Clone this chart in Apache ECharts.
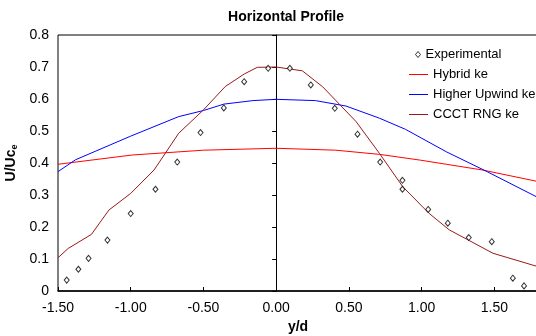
<!DOCTYPE html>
<html>
<head>
<meta charset="utf-8">
<script src="https://cdn.jsdelivr.net/npm/echarts@6/dist/echarts.min.js"></script>
<style>
  html, body { margin: 0; padding: 0; background: #fff; }
  #chart { width: 536px; height: 336px; }
</style>
</head>
<body>
<div id="chart"></div>
<script>
// 水平剖面 U/Uc_e vs y/d
var chart = echarts.init(document.getElementById('chart'));

// 实验点
var expX = [-1.44, -1.36, -1.29, -1.16, -1.00, -0.83, -0.68, -0.52, -0.36, -0.22, -0.055,
            0.094, 0.238, 0.403, 0.559, 0.715, 0.868, 0.868, 1.045, 1.18, 1.324, 1.482, 1.627, 1.704];
var expY = [0.034, 0.068, 0.102, 0.159, 0.242, 0.318, 0.403, 0.495, 0.572, 0.654, 0.696,
            0.696, 0.644, 0.571, 0.490, 0.403, 0.346, 0.318, 0.255, 0.212, 0.167, 0.154, 0.040, 0.016];

// Hybrid ke
var hybX = [-1.5, -0.99, -0.5, 0, 0.41, 0.71, 0.99, 1.17, 1.42, 1.8];
var hybY = [0.396, 0.425, 0.440, 0.446, 0.440, 0.427, 0.409, 0.396, 0.378, 0.342];

// Higher Upwind ke
var upwX = [-1.5, -1.38, -1.0, -0.67, -0.5, -0.36, -0.16, 0, 0.27, 0.48, 0.71, 0.89, 1.17, 1.45, 1.8];
var upwY = [0.373, 0.410, 0.484, 0.545, 0.564, 0.584, 0.595, 0.599, 0.595, 0.578, 0.540, 0.505, 0.435, 0.373, 0.292];

// CCCT RNG ke
var rngX = [-1.5, -1.43, -1.27, -1.15, -1.0, -0.84, -0.67, -0.5, -0.35, -0.22, -0.13, 0, 0.18, 0.32, 0.55, 0.71, 0.87, 1.05, 1.19, 1.33, 1.49, 1.8];
var rngY = [0.104, 0.133, 0.177, 0.253, 0.305, 0.378, 0.493, 0.566, 0.639, 0.678, 0.699, 0.700, 0.688, 0.638, 0.529, 0.430, 0.326, 0.243, 0.191, 0.157, 0.118, 0.076];

var xTicks = [-1.5, -1.0, -0.5, 0, 0.5, 1.0, 1.5];

var colors = { hyb: '#ff0000', upw: '#0000ff', rng: '#991a1a' };

function pairs(xs, ys) {
    return xs.map(function (x, i) { return [x, ys[i]]; });
}

var font = 'Arial, "Liberation Sans", sans-serif';
var legendText = { fontFamily: font, fontSize: 13, color: '#000' };

function lineLegend(name, c) {
    return { name: name, icon: 'rect', itemStyle: { color: c, borderWidth: 0 } };
}

var option = {
    animation: false,
    backgroundColor: '#fff',
    title: {
        text: 'Horizontal Profile',
        left: 281,
        textAlign: 'center',
        top: 5,
        textStyle: { fontFamily: font, fontSize: 14, fontWeight: 'bold', color: '#000' }
    },
    legend: [
        {
            data: [{
                name: 'Experimental',
                icon: 'diamond',
                itemStyle: { color: '#fff', borderColor: '#000', borderWidth: 1 }
            }],
            left: 410,
            top: 43,
            itemWidth: 5,
            itemHeight: 6,
            textStyle: legendText
        },
        {
            data: [
                lineLegend('Hybrid ke', colors.hyb),
                lineLegend('Higher Upwind ke', colors.upw),
                lineLegend('CCCT RNG ke', colors.rng)
            ],
            orient: 'vertical',
            left: 404,
            top: 63,
            itemGap: 7,
            itemWidth: 19,
            itemHeight: 1,
            textStyle: legendText
        }
    ],
    grid: {
        left: 58,
        top: 35,
        right: -2,
        bottom: 45,
        outerBoundsMode: 'none',
        containLabel: false,
        show: true,
        borderColor: '#000',
        borderWidth: 1,
        backgroundColor: 'transparent'
    },
    xAxis: {
        type: 'value',
        min: -1.5,
        max: 1.8,
        interval: 0.5,
        name: 'y/d',
        nameLocation: 'middle',
        nameGap: 28,
        nameTextStyle: { fontFamily: font, fontSize: 14, fontWeight: 'bold', color: '#000' },
        axisLine: { onZero: false, lineStyle: { color: '#000', width: 1.5 } },
        axisTick: { inside: true, length: 4, lineStyle: { color: '#000' } },
        axisLabel: {
            margin: 10,
            fontFamily: font,
            fontSize: 14,
            color: '#000',
            formatter: function (v) {
                return xTicks.indexOf(v) >= 0 ? v.toFixed(2) : '';
            }
        },
        splitLine: { show: false }
    },
    yAxis: [
        {
            type: 'value',
            min: 0,
            max: 0.8,
            interval: 0.1,
            position: 'left',
            name: '{a|U/Uc}{b|e}',
            nameLocation: 'middle',
            nameGap: 35,
            nameTextStyle: {
                rich: {
                    a: { fontFamily: font, fontSize: 14, fontWeight: 'bold', color: '#000' },
                    b: { fontFamily: font, fontSize: 9, fontWeight: 'bold', color: '#000', verticalAlign: 'bottom', padding: [6, 0, 0, 0] }
                }
            },
            axisLine: { show: false, onZero: false },
            axisTick: { show: false },
            axisLabel: {
                margin: 9,
                fontFamily: font,
                fontSize: 14,
                color: '#000',
                formatter: function (v) { return v === 0 ? '0' : v.toFixed(1); }
            },
            splitLine: { show: false }
        },
        {
            type: 'value',
            min: 0,
            max: 0.8,
            interval: 0.1,
            position: 'left',
            axisLine: { show: true, onZero: true, lineStyle: { color: '#000', width: 1 } },
            axisTick: { show: true, length: 4, lineStyle: { color: '#000' } },
            axisLabel: { show: false },
            splitLine: { show: false }
        }
    ],
    series: [
        {
            name: 'Hybrid ke',
            type: 'line',
            data: pairs(hybX, hybY),
            symbol: 'none',
            lineStyle: { color: colors.hyb, width: 1 },
            itemStyle: { color: colors.hyb }
        },
        {
            name: 'Higher Upwind ke',
            type: 'line',
            data: pairs(upwX, upwY),
            symbol: 'none',
            lineStyle: { color: colors.upw, width: 1 },
            itemStyle: { color: colors.upw }
        },
        {
            name: 'CCCT RNG ke',
            type: 'line',
            data: pairs(rngX, rngY),
            symbol: 'none',
            lineStyle: { color: colors.rng, width: 1 },
            itemStyle: { color: colors.rng }
        },
        {
            name: 'Experimental',
            type: 'scatter',
            data: pairs(expX, expY),
            symbol: 'diamond',
            symbolSize: [5, 6],
            itemStyle: { color: '#fff', borderColor: '#000', borderWidth: 1 },
            z: 5
        }
    ]
};

chart.setOption(option);
</script>
</body>
</html>
